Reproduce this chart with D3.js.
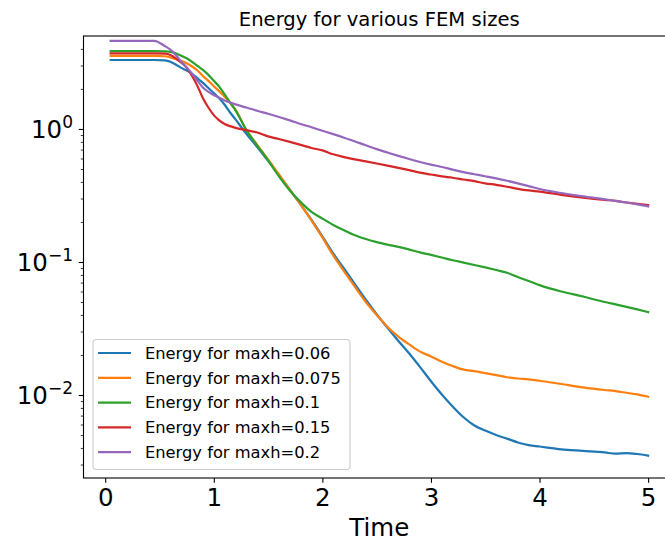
<!DOCTYPE html>
<html>
<head>
<meta charset="utf-8">
<script src="https://cdn.jsdelivr.net/npm/d3@7"></script>
<style>
  body { margin: 0; background: #fff; }
  svg { display: block; font-family: "DejaVu Sans", sans-serif; }
</style>
</head>
<body>
<div id="chart"></div>
<script>
// Energy decay for several mesh sizes

var times = [0.05, 0.45, 0.55, 0.6, 0.65, 0.7, 0.75, 0.8, 0.85, 0.9, 0.95, 1.0, 1.05, 1.1, 1.15, 1.2,
  1.3, 1.4, 1.5, 1.6, 1.7, 1.8, 1.9, 2.0, 2.1, 2.2, 2.3, 2.4, 2.5, 2.6, 2.7, 2.8, 2.9, 3.0,
  3.1, 3.2, 3.3, 3.4, 3.5, 3.6, 3.7, 3.8, 3.9, 4.0, 4.2, 4.4, 4.6, 4.7, 4.8, 4.9, 5.0];

var energy006 = [3.3, 3.3, 3.28, 3.2, 3.05, 2.88, 2.75, 2.6, 2.4, 2.22, 2.03, 1.86, 1.7, 1.52, 1.33, 1.18,
  0.92, 0.73, 0.575, 0.45, 0.35, 0.27, 0.207, 0.156, 0.116, 0.089, 0.068, 0.052, 0.0405, 0.032, 0.0255, 0.0205, 0.0162, 0.0127,
  0.0101, 0.0082, 0.0068, 0.0059, 0.0054, 0.005, 0.0047, 0.0044, 0.0042, 0.0041, 0.0039, 0.0038, 0.0037, 0.00362, 0.00366, 0.0036, 0.0035];

var energy0075 = [3.55, 3.55, 3.52, 3.45, 3.35, 3.25, 3.12, 2.95, 2.75, 2.5, 2.3, 2.1, 1.92, 1.75, 1.57, 1.4,
  0.98, 0.76, 0.59, 0.455, 0.35, 0.27, 0.205, 0.153, 0.112, 0.085, 0.065, 0.05, 0.04, 0.0325, 0.0275, 0.024, 0.0212, 0.0195,
  0.0178, 0.0165, 0.0155, 0.0151, 0.0146, 0.0141, 0.0136, 0.0133, 0.0131, 0.0128, 0.0121, 0.0114, 0.0109, 0.0107, 0.0104, 0.0101, 0.0097];

var energy01 = [3.85, 3.85, 3.83, 3.8, 3.7, 3.55, 3.4, 3.2, 2.98, 2.78, 2.55, 2.3, 2.08, 1.82, 1.58, 1.38,
  0.98, 0.75, 0.58, 0.44, 0.345, 0.282, 0.238, 0.212, 0.19, 0.173, 0.159, 0.149, 0.141, 0.135, 0.13, 0.124, 0.118, 0.113,
  0.108, 0.103, 0.099, 0.095, 0.091, 0.087, 0.083, 0.077, 0.072, 0.067, 0.06, 0.055, 0.05, 0.048, 0.046, 0.044, 0.042];

var energy015 = [3.7, 3.7, 3.68, 3.6, 3.4, 3.15, 2.9, 2.5, 2.1, 1.7, 1.45, 1.27, 1.16, 1.09, 1.05, 1.02,
  0.98, 0.94, 0.88, 0.84, 0.8, 0.76, 0.72, 0.69, 0.645, 0.615, 0.59, 0.57, 0.55, 0.53, 0.51, 0.49, 0.47, 0.455,
  0.44, 0.43, 0.417, 0.405, 0.39, 0.38, 0.368, 0.355, 0.345, 0.338, 0.32, 0.305, 0.293, 0.288, 0.28, 0.274, 0.268];

var energy02 = [4.6, 4.6, 4.2, 3.95, 3.6, 3.2, 2.9, 2.6, 2.3, 2.05, 1.9, 1.8, 1.72, 1.64, 1.58, 1.53,
  1.45, 1.37, 1.3, 1.23, 1.16, 1.09, 1.03, 0.97, 0.915, 0.86, 0.805, 0.755, 0.705, 0.665, 0.628, 0.595, 0.565, 0.54,
  0.518, 0.495, 0.474, 0.457, 0.441, 0.425, 0.408, 0.39, 0.372, 0.354, 0.33, 0.311, 0.296, 0.288, 0.28, 0.271, 0.262];

var seriesLabels = ["Energy for maxh=0.06", "Energy for maxh=0.075", "Energy for maxh=0.1",
  "Energy for maxh=0.15", "Energy for maxh=0.2"];
var seriesValues = [energy006, energy0075, energy01, energy015, energy02];
var colors = ["#1f77b4", "#ff7f0e", "#2ca02c", "#d62728", "#9467bd"];

var xTicks = [0, 1, 2, 3, 4, 5];
var yTicks = [0.01, 0.1, 1];
var yTickExp = ["\u22122", "\u22121", "0"];

var svgWidth = 665;
var svgHeight = 541;

// plot box (right edge falls outside the picture, like the reference)
var plotLeft = 83.5, plotRight = 675, plotTop = 36, plotBottom = 478;

var svg = d3.select("#chart")
  .append("svg")
  .attr("width", svgWidth)
  .attr("height", svgHeight);

var xScale = d3.scaleLinear()
  .domain([-0.2, 5.2475])
  .range([plotLeft, plotRight]);

var yScale = d3.scaleLog()
  .domain([0.002377, 5.0])
  .range([plotBottom, plotTop]);

svg.append("clipPath").attr("id", "plotclip")
  .append("rect")
  .attr("x", plotLeft).attr("y", plotTop)
  .attr("width", plotRight - plotLeft).attr("height", plotBottom - plotTop);

// lines
var line = d3.line()
  .x(function(d) { return xScale(d[0]); })
  .y(function(d) { return yScale(d[1]); })
  .curve(d3.curveMonotoneX);

var lineGroup = svg.append("g").attr("clip-path", "url(#plotclip)");
seriesValues.forEach(function(vals, i) {
  var pts = times.map(function(t, j) { return [t, vals[j]]; });
  lineGroup.append("path")
    .datum(pts)
    .attr("fill", "none")
    .attr("stroke", colors[i])
    .attr("stroke-width", 2.2)
    .attr("stroke-linejoin", "round")
    .attr("stroke-linecap", "square")
    .attr("d", line);
});

// x axis
var bottomAxis = d3.axisBottom(xScale)
  .tickValues(xTicks)
  .tickFormat(d3.format("d"))
  .tickSize(4.8)
  .tickPadding(4.8);

var xAxisG = svg.append("g")
  .attr("transform", `translate(0, ${plotBottom})`)
  .call(bottomAxis);
xAxisG.select(".domain").remove();
xAxisG.selectAll("line").attr("stroke", "#000").attr("stroke-width", 1.1);
xAxisG.selectAll("text")
  .attr("fill", "#000")
  .style("font-family", "DejaVu Sans")
  .style("font-size", "24.5px")
  .attr("dy", "0.76em");

// y axis minor ticks
var minorTicks = [];
[-3, -2, -1, 0].forEach(function(k) {
  for (var m = 2; m <= 9; m++) {
    var v = m * Math.pow(10, k);
    if (v > 0.002377 && v < 5.0) minorTicks.push(v);
  }
});

svg.append("g")
  .attr("transform", `translate(${plotLeft}, 0)`)
  .call(d3.axisLeft(yScale).tickValues(minorTicks).tickFormat("").tickSize(2.7))
  .call(function(g) {
    g.select(".domain").remove();
    g.selectAll("line").attr("stroke", "#000").attr("stroke-width", 0.8);
  });

var yAxisG = svg.append("g")
  .attr("transform", `translate(${plotLeft}, 0)`)
  .call(d3.axisLeft(yScale).tickValues(yTicks).tickFormat("").tickSize(4.8).tickPadding(4.8));
yAxisG.select(".domain").remove();
yAxisG.selectAll("line").attr("stroke", "#000").attr("stroke-width", 1.1);
yAxisG.selectAll(".tick text")
  .attr("fill", "#000")
  .attr("x", -10.5)
  .attr("dy", "0.36em")
  .style("font-family", "DejaVu Sans")
  .style("font-size", "24.5px")
  .each(function(d, i) {
    var t = d3.select(this);
    t.append("tspan").text("10");
    t.append("tspan")
      .attr("dy", "-0.62em")
      .style("font-size", "17px")
      .text(yTickExp[i]);
  });

// spines
svg.append("rect")
  .attr("x", plotLeft).attr("y", plotTop)
  .attr("width", plotRight - plotLeft).attr("height", plotBottom - plotTop)
  .attr("fill", "none")
  .attr("stroke", "#000")
  .attr("stroke-width", 1.1);

// title and axis label
svg.append("text")
  .attr("x", (plotLeft + plotRight) / 2)
  .attr("y", 26)
  .attr("text-anchor", "middle")
  .style("font-size", "19.6px")
  .text("Energy for various FEM sizes");

svg.append("text")
  .attr("x", (plotLeft + plotRight) / 2)
  .attr("y", 536)
  .attr("text-anchor", "middle")
  .style("font-size", "24.5px")
  .text("Time");

// legend
var legend = svg.append("g");
legend.append("rect")
  .attr("x", 93).attr("y", 339.5)
  .attr("width", 257).attr("height", 130)
  .attr("rx", 3.5)
  .attr("fill", "#fff").attr("fill-opacity", 0.8)
  .attr("stroke", "#cccccc").attr("stroke-width", 1.1);

seriesLabels.forEach(function(lab, i) {
  var yy = 353 + i * 24.8;
  legend.append("line")
    .attr("x1", 98).attr("x2", 131)
    .attr("y1", yy).attr("y2", yy)
    .attr("stroke", colors[i]).attr("stroke-width", 2.2);
  legend.append("text")
    .attr("x", 145).attr("y", yy)
    .attr("dy", "0.36em")
    .style("font-size", "16.3px")
    .attr("fill", "#000")
    .text(lab);
});
</script>
</body>
</html>
